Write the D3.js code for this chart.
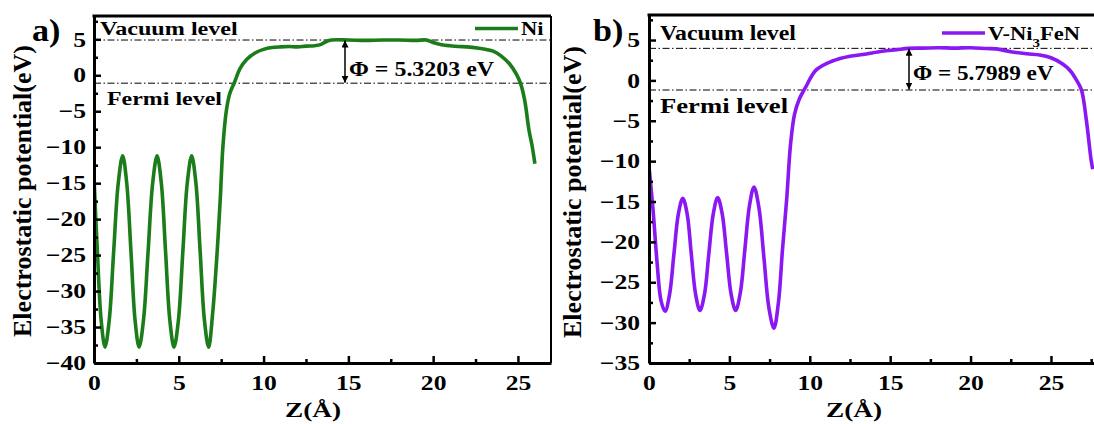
<!DOCTYPE html>
<html>
<head>
<meta charset="utf-8">
<script src="https://cdn.jsdelivr.net/npm/d3@7"></script>
<style>
body { margin: 0; background: #fff; }
svg { display: block; }
</style>
</head>
<body>
<div id="chart"></div>
<script>
// Ni slab: planar-averaged electrostatic potential
const niZ = [0, 0.2, 0.42, 0.65, 0.9, 1.16, 1.43, 1.69, 1.93, 2.18, 2.42, 2.66, 2.92, 3.19, 3.46, 3.72,
	3.97, 4.22, 4.47, 4.72, 4.98, 5.24, 5.5, 5.76, 6.01, 6.26, 6.51, 6.76, 7.0, 7.25, 7.45, 7.6, 7.8, 8.0,
	8.3, 8.6, 9.0, 9.5, 10.0, 10.5, 11.0, 11.5, 12.0, 12.5, 13.0, 13.4, 13.7, 14.0, 15, 16, 17, 18, 19, 19.6,
	20.0, 20.5, 21.0, 21.5, 22.0, 22.7, 23.2, 23.6, 24.0, 24.5, 24.9, 25.15, 25.4, 25.65, 25.85, 26.0];
const niV = [-14.3, -24.5, -34, -37.8, -34, -24.5, -15, -11.2, -15, -24.5, -34, -37.8, -34, -24.5, -15, -11.2,
	-15, -24.5, -34, -37.8, -34, -24.5, -15, -11.2, -15, -24.5, -34, -37.8, -33, -25, -17, -10, -5, -2.6,
	-0.9, 0.9, 2.2, 3.1, 3.6, 3.85, 3.95, 4.0, 3.95, 4.05, 4.1, 4.3, 4.7, 4.9, 4.9, 4.85, 4.9, 4.9, 4.85, 4.9,
	4.55, 4.25, 4.1, 4.0, 3.95, 3.75, 3.55, 3.3, 2.7, 1.6, 0.2, -1.1, -3.5, -7.6, -10, -12.3];

// V-Ni3FeN slab
const vnZ = [0, 0.25, 0.5, 0.75, 1.0, 1.28, 1.55, 1.83, 2.1, 2.37, 2.63, 2.9, 3.17, 3.45, 3.72, 4.0, 4.27,
	4.55, 4.83, 5.11, 5.39, 5.68, 5.96, 6.25, 6.53, 6.84, 7.15, 7.46, 7.77, 8.05, 8.3, 8.56, 8.8, 9.05, 9.35,
	9.7, 10.4, 11.4, 12.5, 13.3, 14.5, 15.4, 16.1, 17, 18, 19, 20, 21, 21.6, 22.5, 23.5, 24.3, 25.0, 25.75,
	26.2, 26.6, 26.9, 27.2, 27.5, 27.6];
const vnV = [-10.7, -16, -22.5, -27.3, -28.6, -26.5, -21.5, -16.5, -14.6, -16.5, -21.5, -26.5, -28.5, -26.5, -21.5, -16.5, -14.5,
	-16.5, -21.5, -26.5, -28.5, -26.3, -21, -15.5, -13.2, -15.8, -22, -28.2, -30.7, -27.5, -21, -14.8, -8, -4.2, -2.3,
	-1.0, 1.3, 2.4, 3.0, 3.2, 3.6, 3.8, 3.97, 4.0, 4.05, 4.0, 4.05, 3.95, 3.9, 3.55, 3.3, 3.15, 2.8, 2.0,
	1.2, 0.0, -1.2, -4.9, -9.9, -11];

const zTicks = [0, 5, 10, 15, 20, 25];
const niYTicks = [5, 0, -5, -10, -15, -20, -25, -30, -35, -40];
const vnYTicks = [5, 0, -5, -10, -15, -20, -25, -30, -35];

// vacuum / Fermi levels (eV) and work functions
const niLevels = [4.9, -1.1];
const vnLevels = [3.97, -1.19];
const niPhi = "Φ = 5.3203 eV";
const vnPhi = "Φ = 5.7989 eV";

const W = 1094, H = 424;
const FONT = '"Liberation Serif", "Times New Roman", serif';

const svg = d3.select("#chart").append("svg")
	.attr("width", W)
	.attr("height", H)
	.attr("viewBox", [0, 0, W, H]);

const defs = svg.append("defs");
defs.append("marker")
	.attr("id", "arrow")
	.attr("viewBox", "0 0 10 10")
	.attr("refX", 10).attr("refY", 5)
	.attr("markerWidth", 7).attr("markerHeight", 7)
	.attr("markerUnits", "userSpaceOnUse")
	.attr("orient", "auto-start-reverse")
	.append("path")
	.attr("d", "M0,0L10,5L0,10Z")
	.attr("fill", "#000");

// stretched bold serif text, like the original figure
function label(g, x, y, str, fs, sx, anchor) {
	return g.append("text")
		.attr("transform", `translate(${x},${y}) scale(${sx},1)`)
		.attr("text-anchor", anchor || "start")
		.style("font-size", fs + "px")
		.text(str);
}

function drawPanel(p) {
	const g = svg.append("g");
	const x = d3.scaleLinear().domain(p.xDomain).range([p.left, p.right]);
	const y = d3.scaleLinear().domain(p.yDomain).range([p.bottom, p.top]);

	g.append("clipPath").attr("id", "clip-" + p.id)
		.append("rect")
		.attr("x", p.left).attr("y", p.top)
		.attr("width", p.right - p.left).attr("height", p.bottom - p.top);

	// vacuum and Fermi levels
	g.selectAll(".level")
		.data(p.levels)
		.join("line")
		.attr("x1", p.left).attr("x2", p.right)
		.attr("y1", d => y(d)).attr("y2", d => y(d))
		.attr("stroke", "#000")
		.attr("stroke-width", 1)
		.attr("stroke-dasharray", "7,2.5,1.5,2.5");

	// potential curve
	const line = d3.line()
		.x(d => x(d[0]))
		.y(d => y(d[1]))
		.curve(d3.curveCatmullRom.alpha(0.5));

	g.append("path")
		.datum(d3.zip(p.z, p.v))
		.attr("clip-path", `url(#clip-${p.id})`)
		.attr("fill", "none")
		.attr("stroke", p.color)
		.attr("stroke-width", 3.6)
		.attr("stroke-linejoin", "round")
		.attr("d", line);

	// minor ticks (half steps inside the domain)
	const inX = v => v >= p.xDomain[0] && v <= p.xDomain[1];
	const inY = v => v >= p.yDomain[0] && v <= p.yDomain[1];
	const halfX = zTicks.map(d => d + 2.5).filter(inX);
	const halfY = p.yTicks.map(d => d + 2.5).filter(inY);
	g.append("g")
		.attr("transform", `translate(0,${p.bottom})`)
		.call(d3.axisBottom(x).tickValues(halfX).tickSize(-4).tickFormat("").tickSizeOuter(0))
		.call(a => a.select(".domain").remove())
		.selectAll("line").attr("stroke-width", 2.5);
	g.append("g")
		.attr("transform", `translate(${p.left},0)`)
		.call(d3.axisLeft(y).tickValues(halfY).tickSize(-4).tickFormat("").tickSizeOuter(0))
		.call(a => a.select(".domain").remove())
		.selectAll("line").attr("stroke-width", 2.5);

	// major ticks
	const xAxis = g.append("g")
		.attr("transform", `translate(0,${p.bottom})`)
		.call(d3.axisBottom(x).tickValues(zTicks).tickSize(-7).tickSizeOuter(0));
	xAxis.select(".domain").attr("stroke-width", 3);
	xAxis.selectAll("line").attr("stroke-width", 2.5);
	xAxis.selectAll("text")
		.attr("dy", 0)
		.attr("y", 27)
		.attr("transform", "scale(1.22,1)")
		.style("font-size", "21px");

	const yAxis = g.append("g")
		.attr("transform", `translate(${p.left},0)`)
		.call(d3.axisLeft(y).tickValues(p.yTicks).tickSize(-7).tickSizeOuter(0));
	yAxis.select(".domain").attr("stroke-width", 3);
	yAxis.selectAll("line").attr("stroke-width", 2.5);
	yAxis.selectAll("text")
		.attr("x", -p.labelGap / 1.22)
		.attr("transform", "scale(1.22,1)")
		.style("font-size", "21px");

	// top and right spines
	g.append("line")
		.attr("x1", p.left - 1.5).attr("x2", p.right)
		.attr("y1", p.top).attr("y2", p.top)
		.attr("stroke", "#000").attr("stroke-width", 3);
	g.append("line")
		.attr("x1", p.right).attr("x2", p.right)
		.attr("y1", p.top).attr("y2", p.bottom)
		.attr("stroke", "#000").attr("stroke-width", 2);

	// axis titles
	label(g, p.xTitleX, 417, "Z(Å)", 22, 1.24, "middle");
	g.append("text")
		.attr("transform", `translate(${p.yTitleX},${p.yTitleY}) rotate(-90)`)
		.attr("text-anchor", "middle")
		.style("font-size", "26px")
		.text("Electrostatic potential(eV)");

	// panel letter
	label(g, p.tagX, 41, p.tag, 31, 1.1, "start");

	// level labels
	label(g, p.vacX, p.vacY, "Vacuum level", p.vacFs, p.vacSx);
	label(g, p.vacX + p.fermiDx, p.fermiY, "Fermi level", p.fermiFs, p.fermiSx);

	// work function arrow
	g.append("line")
		.attr("x1", p.arrowX).attr("x2", p.arrowX)
		.attr("y1", y(p.levels[0]) + 0.5).attr("y2", y(p.levels[1]) - 0.5)
		.attr("stroke", "#000").attr("stroke-width", 1.5)
		.attr("marker-start", "url(#arrow)")
		.attr("marker-end", "url(#arrow)");
	label(g, p.arrowX + 4, p.phiY, p.phi, p.phiFs, p.phiSx);

	// legend
	g.append("line")
		.attr("x1", p.legX).attr("x2", p.legX + 43)
		.attr("y1", p.legY).attr("y2", p.legY)
		.attr("stroke", p.color).attr("stroke-width", 3.6);
	const lt = label(g, p.legX + 46, p.legY + 6.5, "", 18, 1.25);
	p.legend.forEach(part => {
		lt.append("tspan")
			.attr("dy", part.dy)
			.style("font-size", part.fs + "px")
			.text(part.t);
	});
}

drawPanel({
	id: "a", tag: "a)", color: "#1a7d1a",
	z: niZ, v: niV, yTicks: niYTicks, levels: niLevels, phi: niPhi,
	xDomain: [0, 26.95], yDomain: [-40, 8.24],
	left: 94, right: 551, top: 16, bottom: 363, labelGap: 8,
	xTitleX: 313, yTitleX: 31, yTitleY: 191, tagX: 32,
	vacX: 100, vacY: 35, vacFs: 19, vacSx: 1.27,
	fermiDx: 7, fermiY: 105, fermiFs: 19, fermiSx: 1.26,
	arrowX: 345, phiY: 76, phiFs: 21, phiSx: 1.14,
	legX: 475, legY: 28.5,
	legend: [{ t: "Ni", dy: 0, fs: 18 }]
});

drawPanel({
	id: "b", tag: "b)", color: "#8a18f2",
	z: vnZ, v: vnV, yTicks: vnYTicks, levels: vnLevels, phi: vnPhi,
	xDomain: [0, 28.05], yDomain: [-35, 8.1],
	left: 649, right: 1100, top: 15, bottom: 363, labelGap: 9,
	xTitleX: 854, yTitleX: 581, yTitleY: 192, tagX: 593,
	vacX: 660, vacY: 40, vacFs: 20, vacSx: 1.19,
	fermiDx: 0, fermiY: 113, fermiFs: 21, fermiSx: 1.27,
	arrowX: 909, phiY: 80, phiFs: 20, phiSx: 1.16,
	legX: 942, legY: 33,
	legend: [{ t: "V-Ni", dy: 0, fs: 18 }, { t: "3", dy: 7, fs: 12 }, { t: "FeN", dy: -7, fs: 18 }]
});

// one bold serif face for every label
svg.selectAll("g").attr("font-family", null).attr("font-size", null);
svg.selectAll("text")
	.style("font-family", FONT)
	.style("font-weight", "bold")
	.attr("fill", "#000");
</script>
</body>
</html>
